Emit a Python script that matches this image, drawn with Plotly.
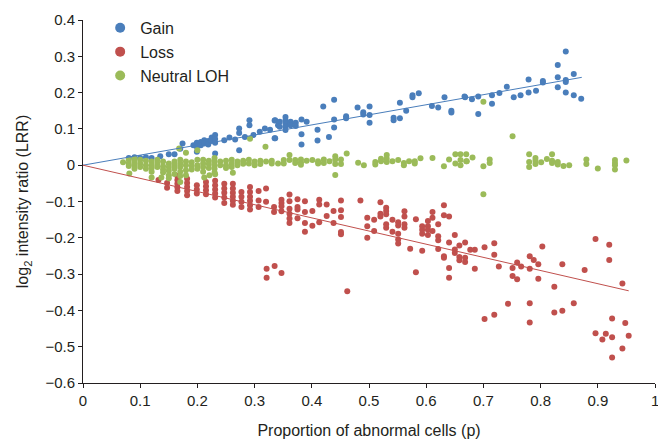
import plotly.graph_objects as go

# ---------------- data ----------------
gain_x = [0.08, 0.09, 0.10, 0.11, 0.12, 0.135, 0.15, 0.16, 0.17,
          0.174, 0.193, 0.199, 0.199, 0.199, 0.206, 0.206, 0.212, 0.212, 0.219, 0.219,
          0.225, 0.225, 0.231, 0.231, 0.231, 0.231, 0.247, 0.256, 0.266, 0.273, 0.273, 0.273,
          0.283, 0.291, 0.291, 0.298, 0.309, 0.318, 0.327, 0.336, 0.336, 0.341,
          0.335, 0.335, 0.344, 0.344, 0.354, 0.354, 0.354, 0.354, 0.354, 0.363, 0.363,
          0.372, 0.372, 0.382, 0.382, 0.382, 0.391, 0.410, 0.410, 0.420, 0.430, 0.439, 0.439, 0.439,
          0.460, 0.460, 0.480, 0.490, 0.490, 0.501, 0.501, 0.501, 0.543, 0.543, 0.554, 0.554,
          0.565, 0.576, 0.576, 0.587, 0.610, 0.621, 0.632, 0.644, 0.644, 0.668,
          0.667, 0.680, 0.691, 0.691, 0.715, 0.715, 0.728, 0.741, 0.753, 0.765, 0.779, 0.779,
          0.792, 0.804, 0.804, 0.830, 0.830, 0.830, 0.844, 0.844, 0.844, 0.844, 0.858, 0.858, 0.871]
gain_y = [0.020, 0.022, 0.020, 0.022, 0.020, 0.025, 0.030, 0.030, 0.045,
          0.060, 0.055, 0.062, 0.051, 0.037, 0.064, 0.055, 0.069, 0.060, 0.067, 0.057,
          0.076, 0.067, 0.083, 0.072, 0.062, 0.032, 0.069, 0.076, 0.071, 0.101, 0.089, 0.041,
          0.078, 0.124, 0.110, 0.083, 0.092, 0.101, 0.098, 0.124, 0.074, 0.110,
          0.123, 0.074, 0.120, 0.106, 0.133, 0.124, 0.115, 0.106, 0.097, 0.120, 0.110,
          0.117, 0.108, 0.126, 0.085, 0.057, 0.120, 0.098, 0.068, 0.162, 0.078, 0.180, 0.126, 0.104,
          0.135, 0.129, 0.159, 0.146, 0.140, 0.162, 0.138, 0.117, 0.131, 0.124, 0.172, 0.129,
          0.150, 0.193, 0.187, 0.198, 0.163, 0.159, 0.187, 0.150, 0.145, 0.187,
          0.189, 0.182, 0.189, 0.141, 0.193, 0.169, 0.199, 0.216, 0.187, 0.193, 0.236, 0.200,
          0.205, 0.232, 0.228, 0.276, 0.242, 0.215, 0.313, 0.235, 0.229, 0.200, 0.251, 0.193, 0.183]

loss_x = [0.132, 0.147, 0.147, 0.165, 0.165, 0.165, 0.165, 0.165,
          0.182, 0.182, 0.182, 0.182, 0.182, 0.199, 0.199, 0.199,
          0.215, 0.215, 0.215, 0.215, 0.231, 0.231, 0.231, 0.231, 0.231,
          0.247, 0.247, 0.247, 0.247, 0.247, 0.262, 0.262, 0.262, 0.262, 0.262, 0.262,
          0.277, 0.277, 0.277, 0.277, 0.292, 0.292, 0.292, 0.292, 0.292, 0.292,
          0.307, 0.307, 0.307, 0.320, 0.320, 0.334, 0.334,
          0.321, 0.321, 0.335, 0.347,
          0.347, 0.347, 0.347, 0.347, 0.361, 0.361, 0.361, 0.361, 0.361, 0.361,
          0.375, 0.375, 0.375, 0.375, 0.388, 0.388, 0.388, 0.388, 0.401, 0.401,
          0.413, 0.413, 0.413, 0.426, 0.426, 0.438, 0.438, 0.451, 0.451, 0.451, 0.451, 0.451,
          0.462, 0.485, 0.497, 0.497, 0.497, 0.509, 0.509, 0.520, 0.520, 0.520,
          0.530, 0.530, 0.530, 0.530, 0.530, 0.541, 0.541, 0.551, 0.551, 0.551, 0.551, 0.551,
          0.562, 0.562, 0.562, 0.562, 0.572, 0.582, 0.582, 0.593, 0.593, 0.593, 0.593,
          0.603, 0.603, 0.603, 0.603, 0.611, 0.611, 0.611, 0.621, 0.621, 0.621, 0.621,
          0.631, 0.631, 0.631, 0.631, 0.640, 0.640, 0.640, 0.640, 0.650, 0.650, 0.650,
          0.658, 0.658, 0.658, 0.668, 0.668, 0.668,
          0.677, 0.685, 0.685, 0.702, 0.702, 0.719, 0.719, 0.719, 0.727, 0.743, 0.751, 0.751,
          0.759, 0.759, 0.766, 0.781, 0.781, 0.781, 0.781, 0.788, 0.796, 0.796, 0.803,
          0.824, 0.824, 0.838, 0.838, 0.858, 0.877, 0.896, 0.896, 0.908, 0.914, 0.920, 0.920,
          0.925, 0.925, 0.925, 0.943, 0.943, 0.948, 0.954]
loss_y = [-0.041, -0.049, -0.062, -0.030, -0.041, -0.051, -0.061, -0.071,
          -0.037, -0.049, -0.060, -0.071, -0.083, -0.055, -0.067, -0.078,
          -0.046, -0.058, -0.069, -0.080, -0.043, -0.055, -0.067, -0.078, -0.089,
          -0.051, -0.064, -0.076, -0.089, -0.104, -0.051, -0.064, -0.076, -0.087, -0.098, -0.109,
          -0.074, -0.087, -0.101, -0.115, -0.060, -0.074, -0.087, -0.098, -0.110, -0.122,
          -0.071, -0.097, -0.115, -0.064, -0.101, -0.115, -0.129,
          -0.285, -0.310, -0.278, -0.297,
          -0.095, -0.104, -0.113, -0.127, -0.081, -0.099, -0.120, -0.134, -0.147, -0.159,
          -0.094, -0.115, -0.122, -0.146, -0.099, -0.129, -0.159, -0.183, -0.126, -0.167,
          -0.095, -0.108, -0.157, -0.108, -0.140, -0.126, -0.159, -0.097, -0.124, -0.143, -0.184, -0.190,
          -0.347, -0.097, -0.145, -0.168, -0.200, -0.150, -0.181, -0.102, -0.134, -0.141,
          -0.117, -0.126, -0.135, -0.163, -0.172, -0.150, -0.183, -0.157, -0.166, -0.189, -0.205, -0.216,
          -0.127, -0.141, -0.163, -0.172, -0.230, -0.149, -0.295, -0.168, -0.178, -0.189, -0.236,
          -0.154, -0.168, -0.178, -0.192, -0.129, -0.145, -0.181, -0.163, -0.196, -0.207, -0.231,
          -0.110, -0.138, -0.251, -0.255, -0.141, -0.213, -0.283, -0.310, -0.192, -0.232, -0.242,
          -0.221, -0.253, -0.262, -0.213, -0.255, -0.267,
          -0.233, -0.233, -0.285, -0.226, -0.424, -0.215, -0.247, -0.412, -0.279, -0.382, -0.283, -0.305,
          -0.268, -0.314, -0.279, -0.251, -0.285, -0.380, -0.433, -0.261, -0.273, -0.313, -0.224,
          -0.335, -0.406, -0.273, -0.401, -0.380, -0.289, -0.203, -0.463, -0.480, -0.464, -0.219, -0.261,
          -0.422, -0.474, -0.530, -0.326, -0.505, -0.435, -0.470]

loh_x = [0.07, 0.08, 0.08, 0.08, 0.09, 0.09, 0.09, 0.09, 0.10, 0.10, 0.10,
         0.11, 0.11, 0.11, 0.12, 0.12, 0.12, 0.12, 0.13, 0.13, 0.13,
         0.14, 0.14, 0.14, 0.14, 0.15, 0.15, 0.15, 0.15, 0.16, 0.16, 0.16, 0.16,
         0.17, 0.17, 0.17, 0.17, 0.17, 0.18, 0.18, 0.18, 0.18, 0.19, 0.19, 0.19,
         0.20, 0.20, 0.20, 0.21, 0.21, 0.21, 0.21, 0.22, 0.22, 0.22,
         0.23, 0.23, 0.23, 0.23, 0.23, 0.24, 0.24, 0.25, 0.25, 0.25, 0.26, 0.26, 0.26,
         0.27, 0.27, 0.28, 0.28, 0.29, 0.29, 0.30, 0.30, 0.31, 0.31, 0.32,
         0.081, 0.120, 0.137, 0.150, 0.170, 0.212, 0.221, 0.231, 0.262,
         0.168, 0.180, 0.200, 0.292, 0.319,
         0.330, 0.330, 0.341, 0.351, 0.351, 0.361, 0.361, 0.371, 0.371, 0.381, 0.381, 0.381,
         0.391, 0.401, 0.411, 0.411, 0.421, 0.421, 0.431, 0.441, 0.441, 0.441, 0.451, 0.451,
         0.461, 0.441, 0.481, 0.491, 0.511, 0.511, 0.521, 0.521, 0.531, 0.531, 0.531, 0.541,
         0.551, 0.561, 0.561, 0.570, 0.580, 0.580, 0.590, 0.611, 0.631, 0.640, 0.651, 0.651,
         0.660, 0.660, 0.660, 0.670, 0.670,
         0.671, 0.681, 0.700, 0.700, 0.711, 0.711, 0.700, 0.751,
         0.780, 0.780, 0.780, 0.791, 0.791, 0.791, 0.801, 0.811, 0.820, 0.820, 0.820,
         0.830, 0.830, 0.840, 0.850, 0.880, 0.880, 0.900, 0.930, 0.930, 0.930, 0.930, 0.950]
loh_y = [0.008, 0.015, 0.005, -0.002, 0.018, 0.010, 0.000, -0.010, 0.015, 0.005, -0.005,
         0.012, 0.000, -0.010, 0.010, 0.000, -0.008, -0.018, 0.015, 0.005, -0.005,
         0.010, -0.003, -0.012, -0.020, 0.005, -0.005, -0.015, -0.028, 0.010, 0.000, -0.010, -0.024,
         0.015, 0.005, -0.005, -0.018, -0.030, 0.010, 0.000, -0.014, -0.028, 0.008, -0.002, -0.012,
         0.015, 0.000, -0.010, 0.015, 0.005, -0.005, -0.018, 0.012, 0.003, -0.008,
         0.020, 0.010, 0.000, -0.010, -0.020, 0.010, 0.000, 0.012, 0.000, -0.008, 0.015, 0.005, -0.005,
         0.010, 0.000, 0.012, 0.004, 0.015, 0.005, 0.010, 0.000, 0.012, 0.003, 0.010,
         -0.023, -0.034, -0.034, -0.036, -0.046, -0.034, -0.028, -0.025, -0.021,
         0.046, 0.034, 0.041, 0.073, 0.051,
         0.012, 0.005, 0.005, 0.014, 0.005, 0.028, 0.014, 0.014, 0.006, 0.016, 0.008, 0.001,
         0.012, 0.014, 0.011, 0.005, 0.016, 0.006, 0.011, 0.025, 0.016, 0.003, 0.016, 0.003,
         0.032, -0.027, 0.007, 0.000, 0.009, 0.002, 0.018, 0.011, 0.028, 0.018, 0.009, 0.011,
         0.014, 0.006, 0.000, 0.011, 0.011, 0.005, 0.019, 0.020, -0.003, 0.016, 0.030, 0.005,
         0.030, 0.014, 0.000, 0.030, 0.011,
         0.011, 0.021, -0.003, 0.175, 0.016, 0.006, -0.080, 0.080,
         0.030, 0.009, -0.005, 0.020, 0.012, 0.003, 0.008, 0.017, 0.030, 0.012, 0.006,
         0.009, 0.002, -0.002, 0.000, 0.016, 0.003, -0.009, 0.014, 0.006, 0.000, -0.012, 0.013]

# trend lines (through origin)
gain_trend_x = [0.0, 0.872]
gain_trend_y = [0.0, 0.242]
loss_trend_x = [0.0, 0.954]
loss_trend_y = [0.0, -0.346]

x_ticks = [0, 0.1, 0.2, 0.3, 0.4, 0.5, 0.6, 0.7, 0.8, 0.9, 1]
x_tick_labels = ["0", "0.1", "0.2", "0.3", "0.4", "0.5", "0.6", "0.7", "0.8", "0.9", "1"]
y_ticks = [0.4, 0.3, 0.2, 0.1, 0, -0.1, -0.2, -0.3, -0.4, -0.5, -0.6]

BLUE = "#4A7EBB"
RED = "#C0504D"
GREEN = "#9BBB59"
INK = "#231F20"

fig = go.Figure()
MS = 6
fig.add_trace(go.Scatter(x=gain_x, y=gain_y, mode="markers", name="Gain",
                         marker=dict(color=BLUE, size=MS), showlegend=False))
fig.add_trace(go.Scatter(x=loss_x, y=loss_y, mode="markers", name="Loss",
                         marker=dict(color=RED, size=MS), showlegend=False))
fig.add_trace(go.Scatter(x=loh_x, y=loh_y, mode="markers", name="Neutral LOH",
                         marker=dict(color=GREEN, size=MS), showlegend=False))
fig.add_trace(go.Scatter(x=gain_trend_x, y=gain_trend_y, mode="lines",
                         line=dict(color=BLUE, width=1), showlegend=False))
fig.add_trace(go.Scatter(x=loss_trend_x, y=loss_trend_y, mode="lines",
                         line=dict(color=RED, width=1), showlegend=False))
# legend entries
for nm, c in [("Gain", BLUE), ("Loss", RED), ("Neutral LOH", GREEN)]:
    fig.add_trace(go.Scatter(x=[None], y=[None], mode="markers", name=nm,
                             marker=dict(color=c, size=10)))

axis_common = dict(showline=True, linecolor=INK, linewidth=1, ticks="outside",
                   ticklen=4, tickcolor=INK, showgrid=False, zeroline=False,
                   tickfont=dict(size=15, color=INK))

# the last x tick label sits on the page edge, where plotly drops it; draw it as an annotation
fig.add_annotation(x=x_ticks[-1], y=0, xref="x", yref="paper", text=x_tick_labels[-1],
                   showarrow=False, yanchor="middle", xanchor="center", yshift=-17,
                   font=dict(size=15, color=INK))

fig.update_layout(
    width=658, height=439,
    margin=dict(l=83, r=3, t=20, b=56, autoexpand=False),
    paper_bgcolor="white", plot_bgcolor="white",
    font=dict(family="Liberation Sans, Arial, sans-serif", color=INK),
    xaxis=dict(range=[0, 1], tickvals=x_ticks, ticktext=x_tick_labels[:-1] + [""],
               title=dict(text="Proportion of abnormal cells (p)", font=dict(size=16), standoff=18),
               **axis_common),
    yaxis=dict(range=[-0.6, 0.4], tickvals=y_ticks,
               title=dict(text="log<sub>2</sub> intensity ratio (LRR)", font=dict(size=16), standoff=12),
               **axis_common),
    legend=dict(x=0.03, y=1.025, xanchor="left", yanchor="top",
                font=dict(size=16, color=INK), bgcolor="rgba(0,0,0,0)",
                tracegroupgap=0, itemsizing="trace"),
)

# remove the page's default body margin so the 658x439 figure fills the window exactly
fig.write_html("out.html", config={"displayModeBar": False},
               post_script="document.body.style.margin='0';document.body.style.overflow='hidden';")
